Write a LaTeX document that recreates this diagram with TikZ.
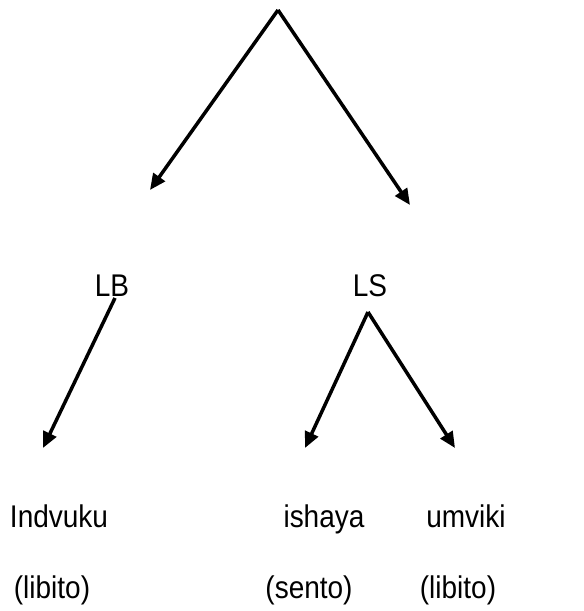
\documentclass[tikz,border=0pt]{standalone}
\usepackage{fontspec}
\setmainfont{Liberation Sans}
\usetikzlibrary{arrows.meta}
\begin{document}
\begin{tikzpicture}[x=1pt,y=-1pt,
  conn/.style={line width=3.5pt,-{Triangle[length=16pt,width=14pt]}},
  lbl/.style={anchor=base,inner sep=0pt,font=\fontsize{28}{32}\selectfont}]
\useasboundingbox (0,0) rectangle (584,611);
% labels
\begin{scope}[every node/.style={yscale=1.12,transform shape}]
\node[lbl] (LB) at (112,296) {LB};
\node[lbl] (LS) at (370,296) {LS};
\node[lbl] (Indvuku) at (59,527) {Indvuku};
\node[lbl] (ishaya) at (324,527) {ishaya};
\node[lbl] (umviki) at (466,527) {umviki};
\node[lbl] (libA) at (52,598) {(libito)};
\node[lbl] (sento) at (309,598) {(sento)};
\node[lbl] (libB) at (458,598) {(libito)};
\end{scope}
% connector points
\coordinate (top) at (278,10);
\coordinate (tL) at (150,190);
\coordinate (tR) at (410,205);
\coordinate (sLB) at (115,298);
\coordinate (tInd) at (43,448);
\coordinate (sLS) at (368,312);
\coordinate (tIsh) at (305,448);
\coordinate (tUmv) at (455,448);
% connectors
\draw[conn] (top) -- (tL);
\draw[conn] (top) -- (tR);
\draw[conn] (sLB) -- (tInd);
\draw[conn] (sLS) -- (tIsh);
\draw[conn] (sLS) -- (tUmv);
\end{tikzpicture}
\end{document}
